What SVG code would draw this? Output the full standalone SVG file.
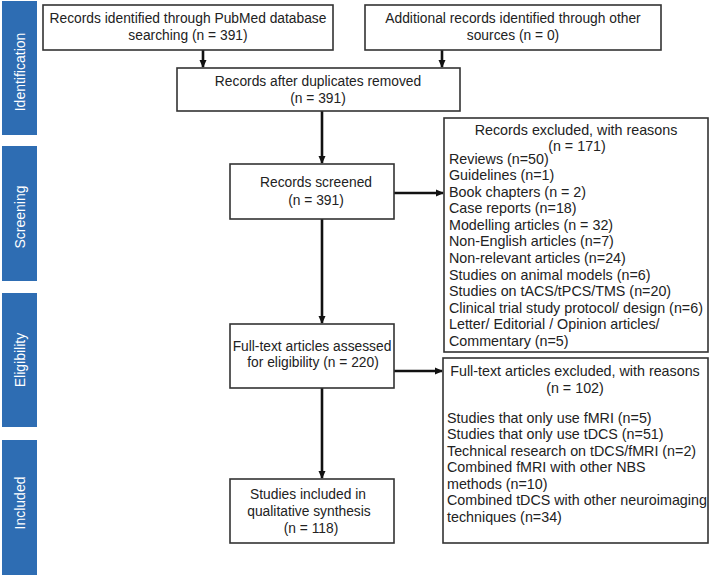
<svg xmlns="http://www.w3.org/2000/svg" width="709" height="576" viewBox="0 0 709 576">
<style>
.bar{fill:#2e6db3}
.lbl{font-family:"Liberation Sans",Arial,sans-serif;font-size:14px;fill:#fff;text-anchor:middle}
.box{fill:#fff;stroke:#333;stroke-width:1.6}
.t{font-family:"Liberation Sans",Arial,sans-serif;font-size:13.8px;fill:#222}
.l{font-size:14.3px}
.c{text-anchor:middle}
.ln{stroke:#111;stroke-width:2.6;fill:none}
</style>
<defs>
<marker id="ah" markerWidth="8" markerHeight="8" refX="7" refY="4" orient="auto" markerUnits="userSpaceOnUse">
<path d="M0,0.5 L8,4 L0,7.5 Z" fill="#111"/>
</marker>
</defs>
<g id="phases">
<rect class="bar" x="2" y="1" width="35" height="134"/>
<rect class="bar" x="2" y="146" width="35" height="135"/>
<rect class="bar" x="2" y="293" width="35" height="134"/>
<rect class="bar" x="2" y="440" width="35" height="135"/>
<text class="lbl" transform="translate(25,72) rotate(-90)">Identification</text>
<text class="lbl" transform="translate(25,217) rotate(-90)">Screening</text>
<text class="lbl" transform="translate(25,360) rotate(-90)">Eligibility</text>
<text class="lbl" transform="translate(25,503) rotate(-90)">Included</text>
</g>
<g id="connectors">
<line class="ln" x1="203" y1="50" x2="203" y2="67" marker-end="url(#ah)"/>
<line class="ln" x1="442" y1="50" x2="442" y2="67" marker-end="url(#ah)"/>
<line class="ln" x1="322" y1="111" x2="322" y2="163" marker-end="url(#ah)"/>
<line class="ln" x1="394" y1="193" x2="443" y2="193" marker-end="url(#ah)"/>
<line class="ln" x1="322" y1="219" x2="322" y2="323" marker-end="url(#ah)"/>
<line class="ln" x1="394" y1="371" x2="442" y2="371" marker-end="url(#ah)"/>
<line class="ln" x1="322" y1="388" x2="322" y2="478" marker-end="url(#ah)"/>
</g>
<g id="pubmed">
<rect class="box" x="43" y="5" width="290" height="45"/>
<text class="t c" x="188" y="23">Records identified through PubMed database</text>
<text class="t c" x="188" y="40">searching (n = 391)</text>
</g>
<g id="other">
<rect class="box" x="365" y="5" width="296" height="45"/>
<text class="t c" x="513" y="23">Additional records identified through other</text>
<text class="t c" x="513" y="40">sources (n = 0)</text>
</g>
<g id="dupes">
<rect class="box" x="177" y="68" width="283" height="43"/>
<text class="t c" x="318" y="86">Records after duplicates removed</text>
<text class="t c" x="318" y="103">(n = 391)</text>
</g>
<g id="screened">
<rect class="box" x="230" y="164" width="164" height="55"/>
<text class="t c" x="316" y="187">Records screened</text>
<text class="t c" x="316" y="205">(n = 391)</text>
</g>
<g id="excluded1">
<rect class="box" x="444" y="118" width="264" height="234"/>
<text class="t l c" x="576" y="135">Records excluded, with reasons</text>
<text class="t l c" x="577" y="151">(n = 171)</text>
<text class="t l" x="449" y="163.5">Reviews (n=50)</text>
<text class="t l" x="449" y="180">Guidelines (n=1)</text>
<text class="t l" x="449" y="196.6">Book chapters (n = 2)</text>
<text class="t l" x="449" y="213.2">Case reports (n=18)</text>
<text class="t l" x="449" y="229.8">Modelling articles (n = 32)</text>
<text class="t l" x="449" y="246.4">Non-English articles (n=7)</text>
<text class="t l" x="449" y="263">Non-relevant articles (n=24)</text>
<text class="t l" x="449" y="279.6">Studies on animal models (n=6)</text>
<text class="t l" x="449" y="296.2">Studies on tACS/tPCS/TMS (n=20)</text>
<text class="t l" x="449" y="312.8">Clinical trial study protocol/ design (n=6)</text>
<text class="t l" x="449" y="329.4">Letter/ Editorial / Opinion articles/</text>
<text class="t l" x="449" y="346">Commentary (n=5)</text>
</g>
<g id="fulltext">
<rect class="box" x="230" y="324" width="164" height="64"/>
<text class="t c" x="312" y="351">Full-text articles assessed</text>
<text class="t c" x="313" y="367">for eligibility (n = 220)</text>
</g>
<g id="excluded2">
<rect class="box" x="443" y="358" width="265" height="185"/>
<text class="t l c" x="575" y="376">Full-text articles excluded, with reasons</text>
<text class="t l c" x="575" y="392.5">(n = 102)</text>
<text class="t l" x="447" y="422.5">Studies that only use fMRI (n=5)</text>
<text class="t l" x="447" y="439">Studies that only use tDCS (n=51)</text>
<text class="t l" x="447" y="455.5">Technical research on tDCS/fMRI (n=2)</text>
<text class="t l" x="447" y="472">Combined fMRI with other NBS</text>
<text class="t l" x="447" y="488.5">methods (n=10)</text>
<text class="t l" x="447" y="505">Combined tDCS with other neuroimaging</text>
<text class="t l" x="447" y="521.5">techniques (n=34)</text>
</g>
<g id="included">
<rect class="box" x="230" y="479" width="164" height="64"/>
<text class="t c" x="308" y="499">Studies included in</text>
<text class="t c" x="309" y="516">qualitative synthesis</text>
<text class="t c" x="311" y="533">(n = 118)</text>
</g>
</svg>
